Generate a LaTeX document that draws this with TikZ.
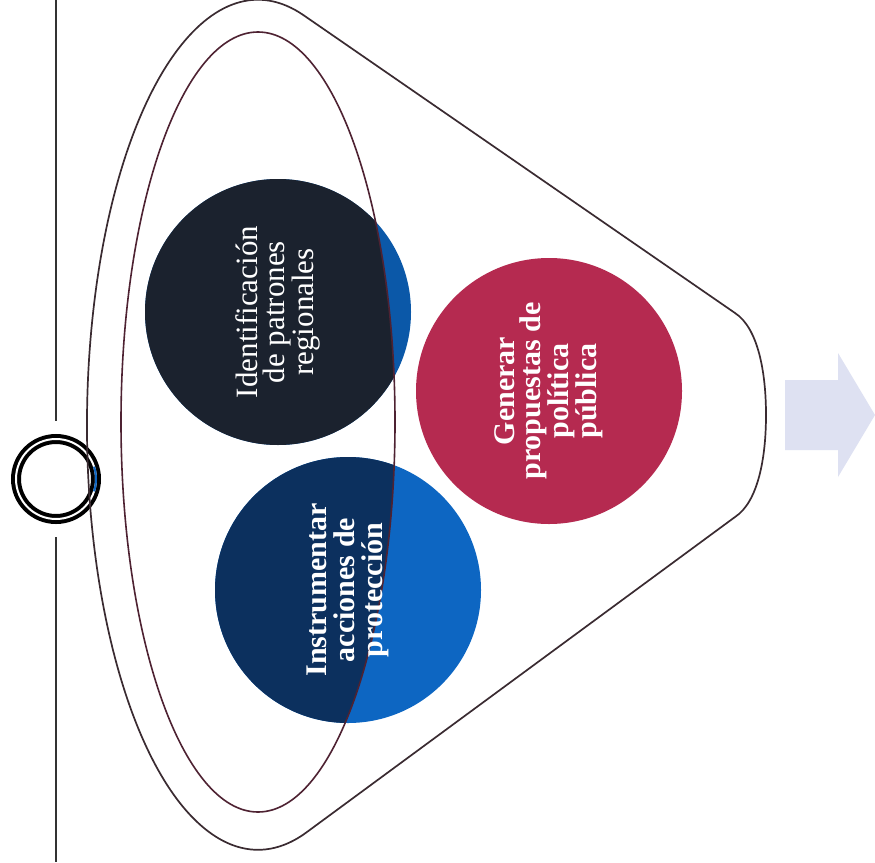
\documentclass[tikz,border=0pt]{standalone}
\usepackage{fontspec}
\setmainfont{Liberation Serif}
\usetikzlibrary{shapes.geometric}
\definecolor{darkA}{HTML}{1B222E}
\definecolor{blueA}{HTML}{0B58A8}
\definecolor{darkB}{HTML}{0C305E}
\definecolor{blueB}{HTML}{0D66C2}
\definecolor{redC}{HTML}{B52A50}
\definecolor{arrowC}{HTML}{DEE1F2}
\definecolor{maroonL}{HTML}{4E2232}
\definecolor{funnelL}{HTML}{3A2B31}
\tikzset{
  bubble/.style={circle, minimum size=266pt, inner sep=0pt},
  txt/.style={text=white, align=center, rotate=90, inner sep=0pt},
  ringstyle/.style={circle, minimum size=80pt, inner sep=0pt, draw=black, line width=4pt, double=white, double distance=2pt},
  vline/.style={draw=black!80, line width=1.5pt},
  funnelstyle/.style={draw=funnelL, line width=1.7pt},
  innerstyle/.style={draw=maroonL, line width=1.6pt}
}
\begin{document}
\begin{tikzpicture}[x=1pt,y=-1pt]
\useasboundingbox (0,0) rectangle (875,862);
\fill[white] (0,0) rectangle (875,862);

% vertical line with ring
\coordinate (vtop) at (56,0);
\coordinate (v1) at (56,421);
\coordinate (v2) at (56,537);
\coordinate (vbot) at (56,862);
\draw[vline] (vtop) -- (v1);
\draw[vline] (v2) -- (vbot);
\node[ringstyle] (ring) at (56,479) {};
\draw[blueB, line width=2pt] (ring.center) ++(-18:40) arc[start angle=-18, end angle=18, radius=40];

% outer funnel
\draw[funnelstyle] (735,313) -- (303.7,15.3)
  arc[start angle=-74.5, end angle=-286.5, x radius=171, y radius=425]
  -- (735,517) .. controls (758,502) and (766,458) .. (766,415)
  .. controls (766,372) and (758,328) .. cycle;

% output arrow
\fill[arrowC] (785,380) -- (838,380) -- (838,353) -- (875,415) -- (838,477) -- (838,450) -- (785,450) -- cycle;

% circles
\node[bubble, fill=blueA] (ident) at (278,312) {};
\node[bubble, fill=blueB] (instr) at (348,590) {};
\node[bubble, fill=redC] (gener) at (549,391) {};
\begin{scope}
  \clip (258,422) ellipse [x radius=137, y radius=390];
  \fill[darkA] (ident.center) circle[radius=133];
  \fill[darkB] (instr.center) circle[radius=133];
\end{scope}

% inner ellipse
\node[ellipse, innerstyle, minimum width=274pt, minimum height=780pt, inner sep=0pt] (inner) at (258,422) {};

% texts
\node[txt, font=\fontsize{31}{27}\selectfont] (tident) at (ident.center) {Identificación\\de patrones\\regionales};
\node[txt, font=\bfseries\fontsize{30}{28}\selectfont] (tinstr) at (instr.center) {Instrumentar\\acciones de\\protección};
\node[txt, font=\bfseries\fontsize{30}{26}\selectfont] (tgener) at (gener.center) {Generar\\propuestas de\\política\\pública};
\end{tikzpicture}
\end{document}
